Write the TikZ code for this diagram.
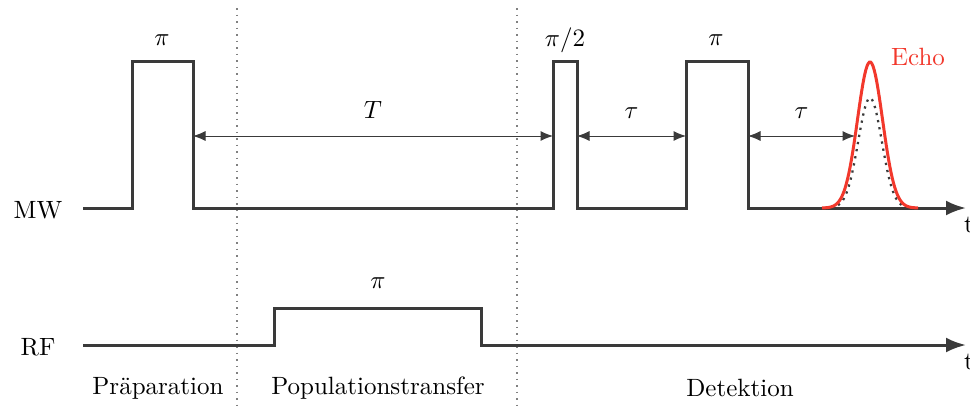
\documentclass[tikz,border=0pt]{standalone}
\usepackage{tikz}
\usetikzlibrary{arrows.meta,positioning,calc}
\definecolor{wavegray}{HTML}{3A3A3A}
\definecolor{echored}{HTML}{F2382C}

\begin{document}
\begin{tikzpicture}[x=0.4pt,y=-0.4pt,
  wave/.style={draw=wavegray,line width=1.2pt,-{Latex[length=8pt,width=6pt]}},
  span/.style={draw=wavegray,line width=0.4pt,{Latex[length=5pt,width=4pt]}-{Latex[length=5pt,width=4pt]}},
  sep/.style={draw=gray,dotted,line width=0.6pt},
  lbl/.style={text=black,inner sep=1pt}]
\useasboundingbox (0,0) rectangle (970,408);
% phase separators
\draw[sep] (237,8) -- (237,408);
\draw[sep] (517,8) -- (517,408);
% MW channel
\node[lbl] (mw) at (38,210) {MW};
\draw[wave] (83,208) -- (132,208) -- (132,61) -- (193,61) -- (193,208)
  -- (553,208) -- (553,61) -- (577,61) -- (577,208)
  -- (686,208) -- (686,61) -- (748,61) -- (748,208) -- (966,208);
\node[lbl,anchor=north west] (tmw) at (961,214) {t};
\node[lbl] (pa) at (162,40) {$\pi$};
\node[lbl] (pb) at (565,40) {$\pi/2$};
\node[lbl] (pc) at (716,40) {$\pi$};
% echo
\draw[wavegray,dotted,line width=0.9pt] plot[domain=824:916,samples=80]
  (\x,{208-110*exp(-((\x-870)/11.8)^2/2)});
\draw[echored,line width=1.2pt] plot[domain=822:918,samples=80]
  (\x,{208-146*exp(-((\x-870)/12.5)^2/2)});
\node[lbl,text=echored] (echo) at (918,57) {Echo};
% delays
\coordinate (d0) at (193,136);
\coordinate (d1) at (553,136);
\coordinate (d2) at (577,136);
\coordinate (d3) at (686,136);
\coordinate (d4) at (748,136);
\coordinate (d5) at (855,136);
\draw[span] (d0) -- node[lbl,above=6pt]{$T$} (d1);
\draw[span] (d2) -- node[lbl,above=6pt]{$\tau$} (d3);
\draw[span] (d4) -- node[lbl,above=6pt]{$\tau$} (d5);
% RF channel
\node[lbl] (rf) at (38,347) {RF};
\draw[wave] (83,345) -- (274,345) -- (274,308) -- (481,308) -- (481,345) -- (966,345);
\node[lbl,anchor=north west] (trf) at (961,351) {t};
\node[lbl] (pd) at (378,283) {$\pi$};
% phases
\node[lbl] (prep) at (158,388) {Präparation};
\node[lbl] (pop) at (378,388) {Populationstransfer};
\node[lbl] (det) at (740,388) {Detektion};
\end{tikzpicture}
\end{document}
